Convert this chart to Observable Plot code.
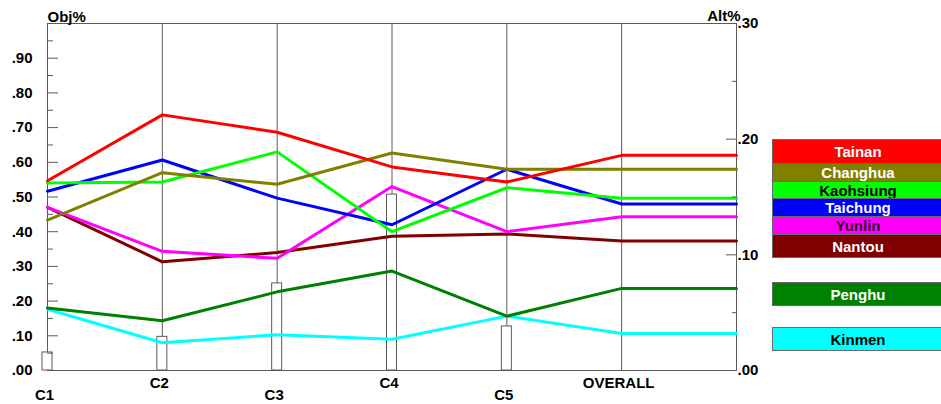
<!DOCTYPE html>
<html><head><meta charset="utf-8">
<script src="https://cdn.jsdelivr.net/npm/d3@7"></script>
<script src="https://cdn.jsdelivr.net/npm/@observablehq/plot@0.6"></script>
<style>
body{margin:0;background:#fff;overflow:hidden;font-family:"Liberation Sans",Arial,sans-serif;}
#wrap{position:relative;width:941px;height:404px;overflow:hidden;}
#legend div{position:absolute;left:772px;width:172px;box-sizing:border-box;border:1px solid #6a6a6a;
  font-weight:bold;font-size:15px;display:flex;align-items:center;justify-content:center;line-height:1;}
#legend div:nth-child(1){top:139px;height:25px;}
#legend div:nth-child(2){top:163px;height:19px;}
#legend div:nth-child(3){top:181px;height:18px;}
#legend div:nth-child(4){top:198px;height:19px;}
#legend div:nth-child(5){top:216px;height:18px;}
#legend div:nth-child(6){top:234px;height:24px;}
#legend div:nth-child(7){top:282px;height:24px;}
#legend div:nth-child(8){top:327px;height:24px;}
</style></head><body>
<div id="wrap"><div id="legend"></div></div>
<script>
// ---- data ----
const criteria = ["C1", "C2", "C3", "C4", "C5", "OVERALL"];
const weights = [0.052, 0.097, 0.251, 0.507, 0.127];          // Obj% (bars, left axis)
const alternatives = ["Tainan", "Changhua", "Kaohsiung", "Taichung", "Yunlin", "Nantou", "Penghu", "Kinmen"];
// Alt% per criterion C1..C5 and OVERALL (right axis)
const tainan    = [0.164, 0.221, 0.206, 0.176, 0.163, 0.186];
const changhua  = [0.130, 0.171, 0.161, 0.188, 0.174, 0.174];
const kaohsiung = [0.162, 0.163, 0.189, 0.120, 0.158, 0.149];
const taichung  = [0.155, 0.182, 0.149, 0.126, 0.174, 0.144];
const yunlin    = [0.141, 0.103, 0.097, 0.159, 0.120, 0.133];
const nantou    = [0.141, 0.094, 0.102, 0.116, 0.118, 0.112];
const penghu    = [0.054, 0.043, 0.068, 0.086, 0.047, 0.071];
const kinmen    = [0.053, 0.024, 0.031, 0.027, 0.047, 0.032];
const objTicks = [0, 0.1, 0.2, 0.3, 0.4, 0.5, 0.6, 0.7, 0.8, 0.9];
const objMinor = [0.05, 0.15, 0.25, 0.35, 0.45, 0.55, 0.65, 0.75, 0.85, 0.95];
const altTicks = [0, 0.1, 0.2, 0.3];
const altMinor = [0.05, 0.15, 0.25];
const objMax = 1.0, altMax = 0.3;

const series = [tainan, changhua, kaohsiung, taichung, yunlin, nantou, penghu, kinmen];
const colors = ["#ff0000", "#808000", "#00ff00", "#0000ff", "#ff00ff", "#800000", "#008000", "#00ffff"];
const textColors = ["#fff", "#fff", "#000", "#fff", "#300030", "#fff", "#fff", "#000"];

const fmt = v => d3.format(".2f")(v).replace(/^0/, "");
const n = criteria.length;
// each series: points at C1..OVERALL, then extended level to the Alt% axis
function rows(vals) {
  const r = vals.map((v, i) => ({x: i, y: v / altMax}));
  r.push({x: n, y: vals[vals.length - 1] / altMax});
  return r;
}
const gray = "#5a5a5a";
const lineMarks = [];
for (let k = series.length - 1; k >= 0; k--) {
  lineMarks.push(Plot.line(rows(series[k]), {x: d => d.x, y: d => d.y, stroke: colors[k], strokeWidth: 3}));
}

const chart = Plot.plot({
  width: 941, height: 404,
  marginLeft: 47, marginRight: 205, marginTop: 23, marginBottom: 34,
  x: {domain: [0, n], axis: null},
  y: {domain: [0, 1], axis: null, label: null},
  style: {fontFamily: "'Liberation Sans', Arial, sans-serif", fontSize: "15px", fontWeight: "bold", color: "#000", background: "white"},
  marks: [
    Plot.ruleX(d3.range(1, n), {x: d => d, stroke: gray}),
    Plot.ruleX([0, n], {x: d => d, stroke: gray}),
    Plot.ruleY([0, 1], {y: d => d, stroke: gray}),
    Plot.rect(weights, {x1: (d, i) => i, x2: (d, i) => i, y1: 0, y2: d => d / objMax,
      insetLeft: -5, insetRight: -5, fill: "white", stroke: gray}),
    ...lineMarks,
    Plot.axisY(objTicks, {anchor: "left", tickSize: -11, tickPadding: 26, stroke: gray, tickFormat: fmt, label: null}),
    Plot.axisY(objMinor, {anchor: "left", tickSize: -6, stroke: gray, tickFormat: () => "", label: null}),
    Plot.axisY(altTicks.map(v => v / altMax), {anchor: "right", tickSize: -11, tickPadding: 12, stroke: gray,
      tickFormat: d => fmt(d * altMax), label: null}),
    Plot.axisY(altMinor.map(v => v / altMax), {anchor: "right", tickSize: -5, stroke: gray, tickFormat: () => "", label: null}),
    Plot.text(["Obj%"], {frameAnchor: "top-left", text: d => d, textAnchor: "start", lineAnchor: "top", dy: -12}),
    Plot.text(["Alt%"], {frameAnchor: "top-right", text: d => d, textAnchor: "end", lineAnchor: "top", dy: -13, dx: 4}),
    Plot.text(criteria, {x: (d, i) => i, y: 0, text: d => d, filter: (d, i) => i % 2 === 0, lineAnchor: "top", dy: 19, dx: -3}),
    Plot.text(criteria, {x: (d, i) => i, y: 0, text: d => d, filter: (d, i) => i % 2 === 1, lineAnchor: "top", dy: 7, dx: -3})
  ]
});
document.getElementById("wrap").prepend(chart);

const lg = document.getElementById("legend");
alternatives.forEach((a, k) => {
  const d = document.createElement("div");
  d.textContent = a;
  d.style.background = colors[k];
  d.style.color = textColors[k];
  lg.appendChild(d);
});
</script>
</body></html>
